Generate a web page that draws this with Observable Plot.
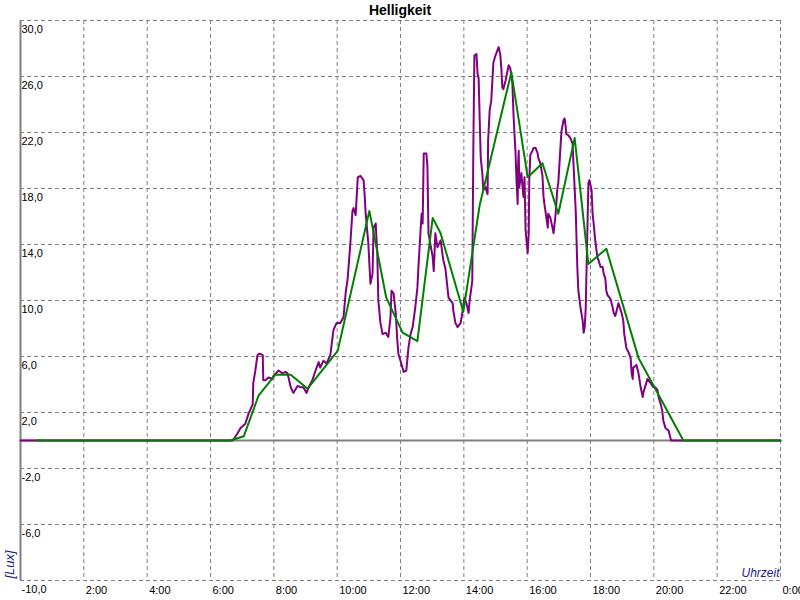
<!DOCTYPE html>
<html><head><meta charset="utf-8">
<script src="https://cdn.jsdelivr.net/npm/d3@7"></script>
<script src="https://cdn.jsdelivr.net/npm/@observablehq/plot@0.6"></script>
<style>
body{margin:0;background:#fff;font-family:"Liberation Sans",Arial,sans-serif}
#title{height:20px;line-height:20px;text-align:center;font-weight:bold;font-size:14px;color:#000}
#chart svg{display:block}
</style>
</head><body>
<div id="title">Helligkeit</div>
<div id="chart"></div>
<script>
// time in minutes since midnight, value in Lux
const purple = [[0,0],[402,0],[411,0.5],[417,0.9],[426,1.2],[432,1.9],[440,2.6],[441,4.1],[445,5.0],[449,6.1],[453,6.2],[459,6.1],[460,4.3],[464,4.3],[470,4.5],[477,4.4],[479,4.6],[489,5.0],[496,4.8],[502,4.9],[506,4.8],[512,3.8],[517,3.4],[525,3.9],[531,3.8],[536,3.8],[542,3.4],[546,3.8],[553,4.3],[559,5.0],[565,5.6],[568,5.2],[574,5.7],[580,5.5],[587,6.1],[593,7.9],[599,8.4],[606,8.4],[612,8.8],[616,10.5],[620,11.6],[625,14.1],[629,16.4],[631,16.6],[635,16.1],[637,17.4],[639,18.8],[644,18.9],[650,18.6],[652,17.6],[654,16.2],[659,14.1],[663,11.2],[667,11.9],[669,15.2],[673,15.5],[676,13.4],[678,10.0],[682,8.4],[686,7.6],[692,7.7],[697,7.4],[701,8.8],[703,10.7],[707,10.5],[711,9.1],[714,7.1],[716,6.2],[720,5.7],[726,4.9],[731,5.0],[735,6.6],[739,7.6],[743,8.1],[748,9.5],[752,10.9],[754,12.4],[758,15.0],[760,16.2],[762,15.5],[764,20.5],[769,20.5],[771,19.6],[773,14.8],[781,13.1],[783,12.1],[786,14.8],[790,13.8],[796,14.3],[801,12.9],[805,12.3],[809,10.9],[811,10.2],[819,9.8],[820,9.3],[824,8.4],[828,8.1],[834,8.4],[837,9.1],[841,10.2],[845,9.8],[849,9.1],[851,10.0],[856,11.4],[858,20.9],[860,27.5],[864,27.6],[866,26.2],[868,25.9],[872,20.2],[875,19.1],[877,17.9],[881,18.1],[885,17.6],[886,21.4],[889,23.6],[892,24.3],[896,27.0],[900,27.5],[904,27.9],[906,28.1],[909,27.6],[911,26.6],[913,25.2],[915,25.1],[919,25.7],[925,26.8],[928,26.6],[932,25.5],[934,23.4],[936,21.9],[938,20.5],[940,18.4],[942,16.9],[943,19.8],[944,20.7],[945,18.1],[949,19.1],[951,18.2],[953,17.4],[955,18.8],[957,15.0],[961,13.4],[963,14.8],[964,18.6],[966,20.4],[970,20.7],[972,20.9],[976,20.9],[980,20.5],[981,20.2],[985,19.8],[989,18.9],[991,17.4],[993,16.8],[995,16.3],[999,15.2],[1000,16.2],[1004,15.9],[1008,15.2],[1010,14.8],[1014,16.2],[1017,17.9],[1019,18.4],[1023,20.9],[1025,22.1],[1029,22.9],[1031,23.0],[1033,22.4],[1034,21.9],[1038,21.8],[1042,21.6],[1046,21.2],[1052,16.4],[1055,12.4],[1057,10.7],[1061,9.5],[1065,8.6],[1067,7.7],[1069,8.1],[1071,9.5],[1072,11.4],[1074,14.8],[1076,18.4],[1078,18.6],[1082,17.9],[1084,16.2],[1086,15.5],[1089,14.3],[1093,13.1],[1095,12.9],[1099,12.4],[1103,12.4],[1105,11.9],[1108,11.6],[1110,10.7],[1112,10.4],[1118,10.1],[1122,9.5],[1124,9.1],[1127,8.9],[1131,9.5],[1133,9.8],[1139,9.1],[1142,8.6],[1144,7.6],[1148,6.6],[1152,6.3],[1156,5.9],[1158,4.8],[1160,4.4],[1161,5.2],[1167,5.4],[1171,4.8],[1175,3.8],[1179,3.1],[1180,3.4],[1184,3.9],[1188,4.4],[1194,4.1],[1199,3.8],[1203,3.8],[1207,3.6],[1209,3.1],[1213,2.6],[1216,2.1],[1218,1.4],[1222,0.9],[1228,0.7],[1232,0.1],[1233,0],[1440,0]];

const green = [[30,0],[398,0],[423,0.3],[451,3.2],[483,4.7],[512,4.7],[544,3.7],[601,6.4],[661,16.4],[693,10.2],[724,7.7],[752,7.1],[781,15.9],[796,14.8],[839,9.2],[870,16.8],[930,26.3],[961,18.8],[989,19.8],[1019,16.2],[1050,21.6],[1076,12.6],[1110,13.7],[1171,5.9],[1256,0],[1440,0]];

const xGrid = [0,120,240,360,480,600,720,840,960,1080,1200,1320,1440];
const xTickPos = [120,240,360,480,600,720,840,960,1080,1200,1320,1440];
const xTickLabels = ["2:00","4:00","6:00","8:00","10:00","12:00","14:00","16:00","18:00","20:00","22:00","0:00"];
const yTicks = [30,26,22,18,14,10,6,2,-2,-6,-10];
const yTickLabels = ["30,0","26,0","22,0","18,0","14,0","10,0","6,0","2,0","-2,0","-6,0","-10,0"];

const gridColor = "#808080";
const labelBlue = "#1a1a96";

const chart = Plot.plot({
  width: 800, height: 580,
  marginTop: 0, marginBottom: 20, marginLeft: 20, marginRight: 20,
  style: {fontFamily: "Liberation Sans, Arial, sans-serif", fontSize: "11px", background: "white", overflow: "visible", color: "black"},
  x: {domain: [0, 1440], axis: null},
  y: {domain: [-10, 30], axis: null},
  marks: [
    Plot.ruleY(yTicks, {y: d => d, stroke: gridColor, strokeDasharray: "4,3"}),
    Plot.ruleX(xGrid, {x: d => d, stroke: gridColor, strokeDasharray: "4,3"}),
    Plot.ruleY([0], {stroke: gridColor, strokeWidth: 2}),
    Plot.ruleX([0], {stroke: gridColor, strokeWidth: 2}),
    Plot.line(purple, {x: d => d[0], y: d => d[1], stroke: "#800080", strokeWidth: 2}),
    Plot.line(green, {x: d => d[0], y: d => d[1], stroke: "#008000", strokeWidth: 2}),
    Plot.text(yTicks, {y: d => d, text: (d, i) => yTickLabels[i], frameAnchor: "left", textAnchor: "start", lineAnchor: "middle", dx: 1, dy: 9, fill: "black"}),
    Plot.text(xTickPos, {x: d => d, text: (d, i) => xTickLabels[i], frameAnchor: "bottom", textAnchor: "start", lineAnchor: "middle", dx: 2, dy: 10, fill: "black"}),
    Plot.text(["Uhrzeit"], {frameAnchor: "bottom-right", textAnchor: "end", lineAnchor: "bottom", dx: -1, dy: -4, fontStyle: "italic", fontSize: 12, fill: labelBlue}),
    Plot.text(["[Lux]"], {frameAnchor: "bottom-left", textAnchor: "start", lineAnchor: "bottom", rotate: -90, dx: -7, dy: -2, fontStyle: "italic", fontSize: 13, fill: labelBlue})
  ]
});
document.getElementById("chart").appendChild(chart);
</script>
</body></html>
